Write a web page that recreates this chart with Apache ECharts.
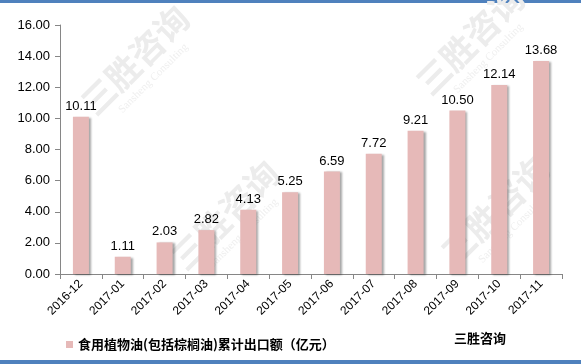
<!DOCTYPE html>
<html><head><meta charset="utf-8">
<script src="https://cdn.jsdelivr.net/npm/echarts@6/dist/echarts.min.js"></script>
<style>html,body{margin:0;padding:0;background:#fff}#c{width:581px;height:364px}</style>
</head><body><div id="c"></div>
<script>
const categories = ['2016-12','2017-01','2017-02','2017-03','2017-04','2017-05','2017-06','2017-07','2017-08','2017-09','2017-10','2017-11'];
const values = [10.11, 1.11, 2.03, 2.82, 4.13, 5.25, 6.59, 7.72, 9.21, 10.50, 12.14, 13.68];
const seriesName = '食用植物油(包括棕榈油)累计出口额（亿元）';
const brand = '三胜咨询';

const chart = echarts.init(document.getElementById('c'));
const font = 'Liberation Sans, Arial, Noto Sans CJK SC, sans-serif';
const wm = (x, y) => ({
  type: 'group', x: x, y: y, rotation: Math.PI / 4, silent: true, z: -10,
  children: [
    { type: 'text', style: { text: brand, x: 0, y: 0, fill: '#ececec', font: 'bold 34px "Noto Sans CJK SC"', textAlign: 'center', textVerticalAlign: 'middle' } },
    { type: 'text', style: { text: 'Sansheng Consulting', x: 0, y: 26, fill: '#efefef', font: '11px "Liberation Serif"', textAlign: 'center', textVerticalAlign: 'middle' } }
  ]
});
chart.setOption({
  animation: false,
  grid: { left: 60, right: 19, top: 25, bottom: 90, containLabel: false },
  legend: {
    data: [seriesName], left: 61, top: 333, icon: 'rect', itemWidth: 7, itemHeight: 7, itemGap: 5,
    textStyle: { fontSize: 13, fontWeight: 'bold', color: '#000', fontFamily: '"Noto Sans CJK SC", sans-serif' }
  },
  graphic: [
    { type: 'rect', shape: { x: 0, y: 0, width: 581, height: 3 }, style: { fill: '#4f81bd' }, silent: true },
    { type: 'rect', shape: { x: 0, y: 360, width: 581, height: 4 }, style: { fill: '#4f81bd' }, silent: true },
    wm(135, 60), wm(470, 40), wm(225, 215), wm(495, 210),
    { type: 'text', left: 454, top: 332, style: { text: brand, fill: '#000', font: 'bold 13px "Noto Sans CJK SC"' } }
  ],
  xAxis: {
    type: 'category', data: categories,
    axisLine: { lineStyle: { color: '#868686' } },
    axisTick: { show: true, alignWithLabel: false, length: 5, lineStyle: { color: '#868686' } },
    axisLabel: { rotate: 45, interval: 0, fontSize: 12, color: '#000', fontFamily: font, margin: 8 }
  },
  yAxis: {
    type: 'value', min: 0, max: 16, interval: 2,
    splitLine: { show: false },
    axisLine: { show: true, lineStyle: { color: '#868686' } },
    axisTick: { show: true, length: 5, lineStyle: { color: '#868686' } },
    axisLabel: { formatter: v => v.toFixed(2), fontSize: 13, color: '#000', fontFamily: font, margin: 10 }
  },
  series: [{
    name: seriesName, type: 'bar', data: values, barWidth: 16,
    itemStyle: { color: '#e6b9b8', shadowColor: 'rgba(0,0,0,0.35)', shadowOffsetX: 2, shadowOffsetY: 1, shadowBlur: 2 },
    label: { show: true, position: 'top', distance: 4, formatter: p => p.value.toFixed(2), fontSize: 13, color: '#000', fontFamily: font }
  }]
});
</script></body></html>
